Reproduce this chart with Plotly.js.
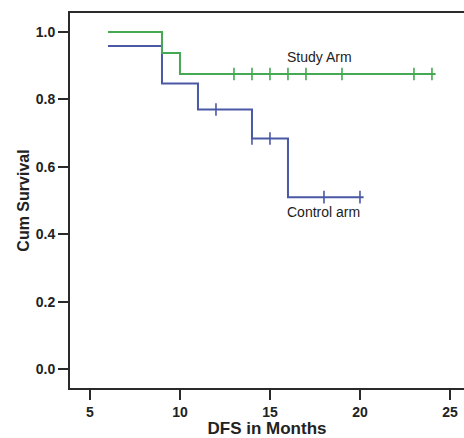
<!DOCTYPE html>
<html>
<head>
<meta charset="utf-8">
<script src="https://cdn.plot.ly/plotly-3.0.1.min.js"></script>
<style>html,body{margin:0;padding:0;background:#fff;}#chart{width:464px;height:438px;}</style>
</head>
<body>
<div id="chart"></div>
<script>
// Kaplan-Meier step data (event times in months, cumulative survival)
var studyStepX = [6, 9, 10, 24.2];
var studyStepY = [1.0, 0.9375, 0.875, 0.875];
var studyCensorX = [13, 14, 15, 16, 17, 19, 23, 24];
var studyCensorY = [0.875, 0.875, 0.875, 0.875, 0.875, 0.875, 0.875, 0.875];

var controlStepX = [6, 9, 11, 14, 16, 20.2];
var controlStepY = [0.958, 0.847, 0.770, 0.684, 0.510, 0.510];
var controlCensorX = [12, 14, 15, 18, 20];
var controlCensorY = [0.770, 0.684, 0.684, 0.510, 0.510];

var xTicks = [5, 10, 15, 20, 25];
var yTicks = [0.0, 0.2, 0.4, 0.6, 0.8, 1.0];

var green = '#45a852';
var blue = '#4a58a6';

var traces = [
  {x: controlStepX, y: controlStepY, mode: 'lines', line: {shape: 'hv', color: blue, width: 2}, hoverinfo: 'none'},
  {x: controlCensorX, y: controlCensorY, mode: 'markers', marker: {symbol: 'line-ns', size: 9, line: {color: blue, width: 1.6}}, hoverinfo: 'none'},
  {x: studyStepX, y: studyStepY, mode: 'lines', line: {shape: 'hv', color: green, width: 2}, hoverinfo: 'none'},
  {x: studyCensorX, y: studyCensorY, mode: 'markers', marker: {symbol: 'line-ns', size: 9, line: {color: green, width: 1.6}}, hoverinfo: 'none'}
];

var tickFont = {family: 'Liberation Sans, Arial, sans-serif', size: 14, color: '#222', weight: 'bold'};

var layout = {
  width: 464, height: 438,
  margin: {l: 70, r: 0, t: 13, b: 50},
  paper_bgcolor: '#fff', plot_bgcolor: '#fff',
  showlegend: false,
  xaxis: {
    range: [3.89, 25.78], tickvals: xTicks, ticktext: xTicks.map(String),
    showgrid: false, zeroline: false,
    showline: true, linecolor: '#2a2a2a', linewidth: 2, mirror: true,
    ticks: 'outside', ticklen: 10, tickwidth: 2, tickcolor: '#2a2a2a',
    tickfont: tickFont,
    title: {text: 'DFS in Months', font: {family: 'Liberation Sans, Arial, sans-serif', size: 17, color: '#222', weight: 'bold'}, standoff: 5}
  },
  yaxis: {
    range: [-0.056, 1.056], tickvals: yTicks, ticktext: yTicks.map(function(v){return v.toFixed(1);}),
    showgrid: false, zeroline: false,
    showline: true, linecolor: '#2a2a2a', linewidth: 2, mirror: false,
    ticks: 'outside', ticklen: 10, tickwidth: 2, tickcolor: '#2a2a2a',
    tickfont: tickFont,
    title: {text: 'Cum Survival', font: {family: 'Liberation Sans, Arial, sans-serif', size: 16, color: '#222', weight: 'bold'}, standoff: 2}
  },
  annotations: [
    {x: 17.75, y: 0.925, xref: 'x', yref: 'y', text: 'Study Arm', showarrow: false, font: {family: 'Liberation Sans, Arial, sans-serif', size: 14, color: '#222'}},
    {x: 18.0, y: 0.465, xref: 'x', yref: 'y', text: 'Control arm', showarrow: false, font: {family: 'Liberation Sans, Arial, sans-serif', size: 14, color: '#222'}}
  ]
};

Plotly.newPlot('chart', traces, layout, {displayModeBar: false, staticPlot: true});
</script>
</body>
</html>
